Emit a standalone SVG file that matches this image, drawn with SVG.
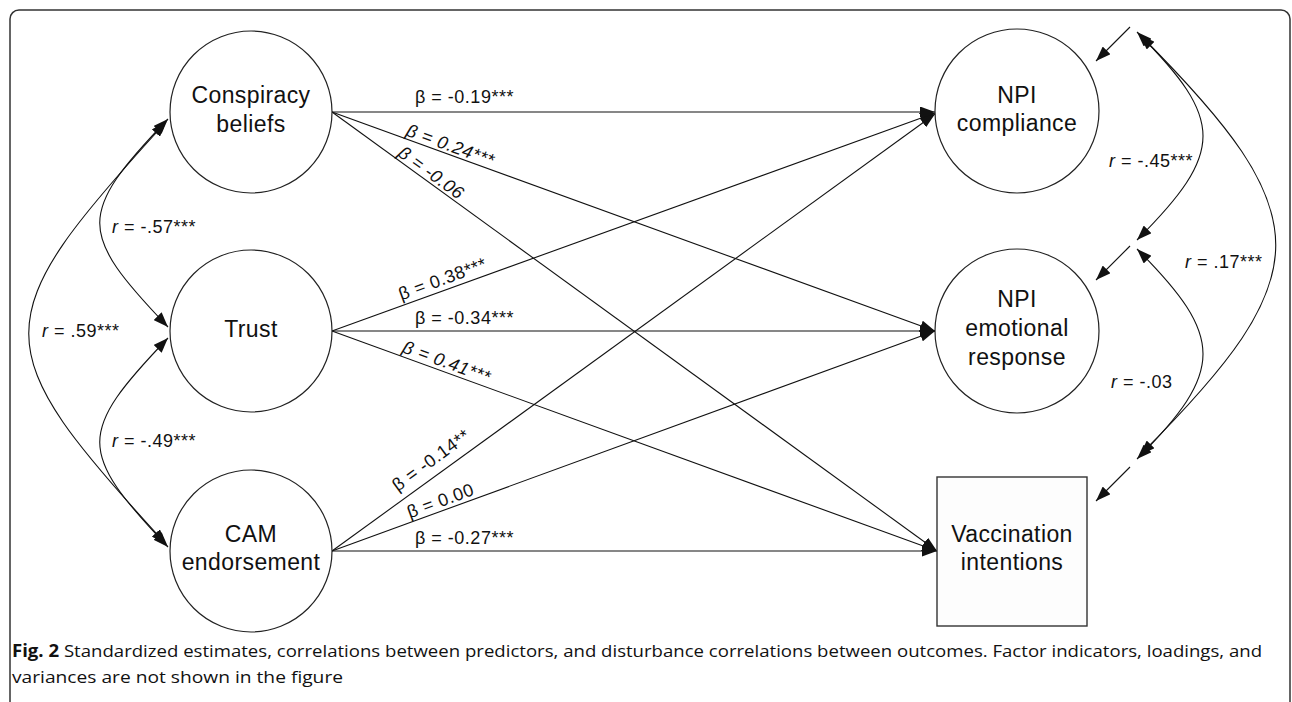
<svg xmlns="http://www.w3.org/2000/svg" width="1292" height="702" viewBox="0 0 1292 702">
<style>
.node{fill:#fff;stroke:#222;stroke-width:1.2}
.box{fill:#fdfdfd;stroke:#333;stroke-width:1.4}
.nt{font-family:"Liberation Sans",Arial,sans-serif;font-size:23px;letter-spacing:0.4px;fill:#111;text-anchor:middle}
.lb{font-family:"Liberation Sans",Arial,sans-serif;font-size:18px;letter-spacing:0.5px;fill:#111}
.it{font-style:italic}
.path{fill:none;stroke:#111;stroke-width:1.1;marker-end:url(#ah)}
.cor{fill:none;stroke:#111;stroke-width:1.1;marker-start:url(#ah);marker-end:url(#ah)}
.cap{font-family:"Open Sans","Liberation Sans",sans-serif;font-size:17px;fill:#111}
</style>
<defs>
<marker id="ah" viewBox="0 0 15 11" refX="15" refY="5.5" markerWidth="15" markerHeight="11" markerUnits="userSpaceOnUse" orient="auto-start-reverse">
<path d="M0,0 L15,5.5 L0,11 z" fill="#111"/>
</marker>
</defs>
<rect x="10" y="10" width="1280" height="720" rx="9" fill="#fff" stroke="#333" stroke-width="1.5"/>

<g id="connectors">
<line class="path" x1="332" y1="112" x2="935" y2="112"/>
<line class="path" x1="332" y1="112" x2="935" y2="331"/>
<line class="path" x1="332" y1="112" x2="937" y2="551"/>
<line class="path" x1="332" y1="331" x2="935" y2="113"/>
<line class="path" x1="332" y1="331" x2="935" y2="331"/>
<line class="path" x1="332" y1="331" x2="937" y2="551"/>
<line class="path" x1="332" y1="551" x2="935" y2="114"/>
<line class="path" x1="332" y1="551" x2="935" y2="331"/>
<line class="path" x1="332" y1="551" x2="937" y2="551"/>
<line class="path" x1="1130" y1="27" x2="1096" y2="61"/>
<line class="path" x1="1130" y1="246" x2="1096" y2="280"/>
<line class="path" x1="1130" y1="467" x2="1096" y2="501"/>
<path class="cor" d="M168,119 C77,214 77,232 168,327"/>
<path class="cor" d="M168,338 C77,433 77,451 168,547"/>
<path class="cor" d="M166,122 C-17,322 -17,345 166,544"/>
<path class="cor" d="M1137,32 C1225,120 1225,152 1137,240"/>
<path class="cor" d="M1137,249 C1225,337 1225,371 1137,459"/>
<path class="cor" d="M1140,35 C1321,216 1321,274 1140,455"/>
</g>

<g id="labels">
<text class="lb" x="415" y="103">β = -0.19***</text>
<text class="lb it" transform="translate(404,138.1) rotate(19.96)" y="-3">β = 0.24***</text>
<text class="lb it" transform="translate(395,157.7) rotate(35.96)" y="-3">β = -0.06</text>
<text class="lb" transform="translate(403,305.1) rotate(-20.04)" y="-5">β = 0.38***</text>
<text class="lb" x="415" y="324">β = -0.34***</text>
<text class="lb it" transform="translate(400,355.7) rotate(19.98)" y="-4">β = 0.41***</text>
<text class="lb" transform="translate(403,499.2) rotate(-36.11)" y="-9">β = -0.14**</text>
<text class="lb" transform="translate(411,522.2) rotate(-20.04)" y="-4">β = 0.00</text>
<text class="lb" x="415" y="544">β = -0.27***</text>
<text class="lb" x="112" y="233"><tspan class="it">r</tspan> = -.57***</text>
<text class="lb" x="42" y="337"><tspan class="it">r</tspan> = .59***</text>
<text class="lb" x="112" y="447"><tspan class="it">r</tspan> = -.49***</text>
<text class="lb" x="1109" y="167"><tspan class="it">r</tspan> = -.45***</text>
<text class="lb" x="1185" y="268"><tspan class="it">r</tspan> = .17***</text>
<text class="lb" x="1111" y="388"><tspan class="it">r</tspan> = -.03</text>
</g>

<g id="conspiracy">
<circle class="node" cx="251" cy="112" r="81"/>
<text class="nt" x="251" y="103">Conspiracy</text>
<text class="nt" x="251" y="132">beliefs</text>
</g>
<g id="trust">
<circle class="node" cx="251" cy="331" r="81"/>
<text class="nt" x="251" y="337">Trust</text>
</g>
<g id="cam">
<circle class="node" cx="251" cy="551" r="81"/>
<text class="nt" x="251" y="542">CAM</text>
<text class="nt" x="251" y="570">endorsement</text>
</g>
<g id="npi-compliance">
<circle class="node" cx="1017" cy="111" r="82"/>
<text class="nt" x="1017" y="103">NPI</text>
<text class="nt" x="1017" y="131">compliance</text>
</g>
<g id="npi-emotional">
<circle class="node" cx="1017" cy="331" r="82"/>
<text class="nt" x="1017" y="307">NPI</text>
<text class="nt" x="1017" y="336">emotional</text>
<text class="nt" x="1017" y="365">response</text>
</g>
<g id="vaccination">
<rect class="box" x="937" y="477" width="150" height="149"/>
<text class="nt" x="1012" y="542">Vaccination</text>
<text class="nt" x="1012" y="570">intentions</text>
</g>

<g id="caption">
<text class="cap" x="12" y="657" textLength="1250" lengthAdjust="spacingAndGlyphs"><tspan font-weight="bold">Fig. 2</tspan> Standardized estimates, correlations between predictors, and disturbance correlations between outcomes. Factor indicators, loadings, and</text>
<text class="cap" x="12" y="683" textLength="331" lengthAdjust="spacingAndGlyphs">variances are not shown in the figure</text>
</g>
</svg>
